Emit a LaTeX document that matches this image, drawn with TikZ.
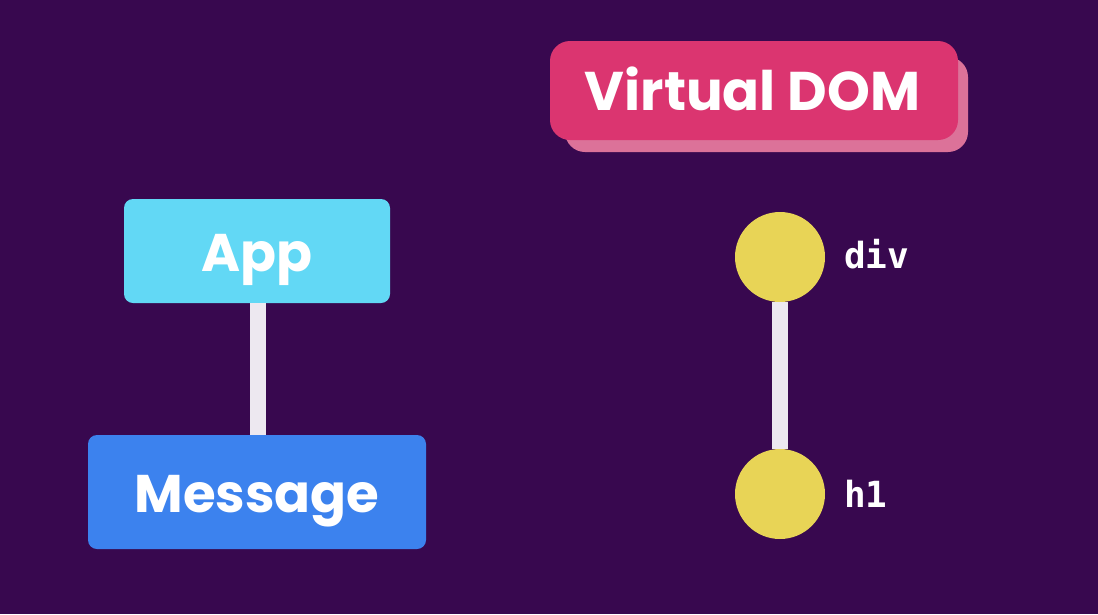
\documentclass[tikz,border=0pt]{standalone}
\usepackage{fontspec}
\newfontfamily\pop{Poppins}
\newfontfamily\mono{DejaVu Sans Mono}
\definecolor{bg}{HTML}{38084F}
\definecolor{vpink}{HTML}{DB3570}
\definecolor{vshadow}{HTML}{DC7299}
\definecolor{appc}{HTML}{62D8F5}
\definecolor{msgc}{HTML}{3C82EE}
\definecolor{dotc}{HTML}{E8D456}
\definecolor{linkc}{HTML}{EDE8F0}
\tikzset{
  box/.style={draw=none, rounded corners=#1, inner sep=0pt, outer sep=0pt},
  title/.style={text=white, font={\pop\bfseries\fontsize{54.5}{58}\selectfont}, inner sep=0pt, anchor=base},
  boxtext/.style={text=white, font={\pop\bfseries\fontsize{53}{56}\selectfont}, inner sep=0pt, anchor=base},
  dot/.style={circle, fill=dotc, minimum size=90pt, inner sep=0pt, outer sep=0pt},
  tag/.style={text=white, font={\mono\bfseries\fontsize{36}{38}\selectfont}, inner sep=0pt, anchor=base west},
  link/.style={draw=linkc, line width=16pt, line cap=butt}
}
\begin{document}
\begin{tikzpicture}[x=1pt,y=-1pt]
\fill[bg] (0,0) rectangle (1098,614);
\useasboundingbox (0,0) rectangle (1098,614);
% Virtual DOM badge
\fill[vshadow, rounded corners=20pt] (565,57) rectangle (968,152);
\node[box=20pt, fill=vpink, minimum width=408pt, minimum height=99pt] (vdom) at (754,90.5) {};
\node[title] (vdomtext) at (752.5,110) {Virtual DOM};
% component tree
\node[box=9pt, fill=appc, minimum width=266pt, minimum height=104pt] (app) at (257,251) {};
\node[box=9pt, fill=msgc, minimum width=338pt, minimum height=114pt] (msg) at (257,492) {};
\draw[link] ([xshift=1pt]app.south) -- ([xshift=1pt]msg.north);
\node[boxtext] (apptext) at (257,271) {App};
\node[boxtext] (msgtext) at (257,512) {Message};
% virtual dom tree
\node[dot] (div) at (780,257) {};
\node[dot] (h1) at (780,494) {};
\draw[link] (div.south) -- (h1.north);
\node[tag] (divtag) at (844,268) {div};
\node[tag] (h1tag) at (844,507) {h1};
\end{tikzpicture}
\end{document}
